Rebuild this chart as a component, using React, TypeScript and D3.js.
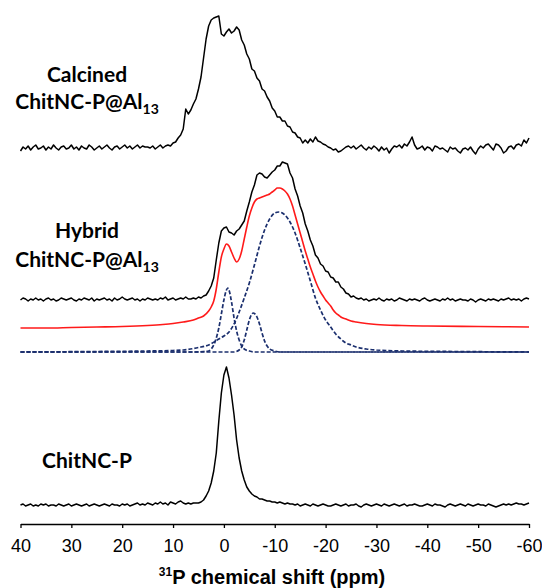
import * as d3 from "d3";
import { useEffect, useRef } from "react";

// sampled spectra: 40 ppm down to -60 ppm, every 0.5 ppm
const ppmGrid = d3.range(0, 201).map((i) => 40 - 0.5 * i);

// ChitNC-P (bottom trace)
const chitncP = [
  0, 1, -1, 0, 1, -1, 0, -1, 1, 0, 1, -1, 0, 0, -1, 1, 0, -1, 0, 1,
  -1, 0, 1, 0, -1, 0, 1, -1, 0, 1, 0, -1, 0, 1, 0, -1, 1, 0, 0, -1,
  1, 0, 1, -1, 0, 1, 2, 0, 1, 0, 2, 1, 0, 2, 1, 3, 1, 2, 0, 3,
  2, 1, 3, 4, 2, 1, 2, 1, 2,
  2, 2, 3, 5, 9, 14, 22, 34, 52, 84, 112, 130, 138, 127, 110, 90, 65, 47, 34, 25,
  18, 14, 11, 9, 8, 6, 6, 5, 4, 4, 3, 3, 2, 3, 2, 1, 2, 1, 1, 0,
  1, -1, 0, 1, 0, -1, 1, 0, -1, 0, 1, 0, -1, -1, 0, 1, 0, -1, 0, 1,
  -1, 0, 0, 1, -1, -2, 0, 1, 0, -1, 0, 1, 0, -1, 1, 0, -1, 0, 1, 0,
  -1, 0, 1, -1, 0, 0, 1, 0, -1, -1, 0, 1, 0, -1, 1, 0, 0, -1, -2, 0,
  1, 0, -1, 0, 1, 0, -1, 1, 0, -1, 0, 1, 0, 0, -1, 1, 0, -1, -2, -1,
  0, 1, 0, 1, 0, 1, 2, 1, 1, 0, 1, 2,
];

// Hybrid ChitNC-P@Al13 (measured)
const hybrid = [
  0, 2, 1, -1, 1, 0, 2, 0, 1, -1, 1, 2, 0, 1, -1, 0, 2, 1, 0, 1,
  2, 0, -1, 1, 0, 2, 1, 0, 2, -1, 1, 0, 1, 2, 0, 1, -1, 2, 0, 1,
  3, 1, 0, 1, 2, 0, 1, -1, 1, 0, 2, 1, 0, 1, 0, 2, 1, 3, 0, 1,
  2, 0, 1, 2, 1, 3, 1,
  1, 2, 1, 3, 2, 4, 5, 9, 14, 22, 40, 57, 69, 72, 73, 68, 67, 65, 69, 71,
  75, 79, 89, 98, 108, 115, 125, 127, 126, 123, 122, 125, 128, 130, 134, 134, 138, 137, 136, 127,
  122, 111, 104, 94, 87, 76, 69, 60, 54, 45, 42, 36, 34, 29, 28, 23, 22, 18, 18, 13,
  11, 7, 6, 3, 4, 2,
  1, 2, 0, 1, -1, 0, 1, 0, 2, 0, -1, 1, 0, 1, -1, 0, 2, 1, 0, -1,
  1, 0, 1, 0, -1, 1, 2, 0, -1, 0, 1, 0, -1, 1, 0, 2, 0, 1, -1, 0,
  1, 0, 0, -1, 1, 0, -2, 0, 1, 0, -1, 1, 0, 1, 0, -1, 1, 0, 1, 2,
  0, 1, 0, 1, -1, 1, 2, 1,
];

// Calcined ChitNC-P@Al13 (top trace)
const calcined = [
  -3, 1, -1, 2, -2, 1, 3, -1, 0, 2, -2, 1, -1, 3, 0, -2, 1, 2, -1, 0,
  3, -1, 1, -2, 2, 0, -1, 3, 1, -2, 0, 2, -1, 1, 3, 0, -2, 1, 2, -1,
  1, 3, 0, 2, -1, 1, 3, 0, 2, 1,
  1, 0, 2, -1, 1, 3, 0, 2, 3, 2, 5, 6, 10, 13, 19, 39, 34, 38, 44, 49,
  59, 71, 90, 109, 122, 128, 130, 131, 132, 114, 112, 116, 119, 115, 117, 121, 118, 108, 103, 94,
  89, 79, 77, 70, 67, 59, 57, 51, 47, 40, 37, 31, 31, 27, 27, 22, 21, 16, 15, 11,
  10, 5, 8, 5, 9, 6, 11, 7, 6, 4, 3, 1, 0, -2, -1, -4, -3, -1, 1, 2,
  0,
  2, -1, 1, 3, 0, -2, 1, -1, 2, 0, -3, 1, -2, 0, -5, -1, 2, 1, 3, 0,
  4, 2, 6, 11, 3, -1, 0, 2, -2, 1, 0, -3, 2, 1, -1, 0, -2, -4, 1, -1,
  0, -3, -5, -1, 0, -2, 1, -3, -6, -1, 2, 0, 3, 4, 1, -2, 4, 3, 0, -5,
  -3, 1, 2, -1, 3, 4, 2, 8, 5, 10,
];

// deconvolution of the hybrid spectrum: [ppm, intensity]
const fitSum: [number, number][] = [
  [40, 0], [35, 0], [30, 0.5], [25, 1], [20, 1.5], [15, 2.5], [12, 3.5], [10, 4.5], [8, 6], [6, 8],
  [5, 10], [4, 12], [3, 17], [2.5, 21], [2, 27], [1.5, 39], [1, 56], [0.5, 71], [0, 79], [-0.5, 84],
  [-1, 82], [-1.5, 76], [-2, 70], [-2.5, 66], [-3, 69], [-3.5, 77], [-4, 89], [-4.5, 101], [-5, 112],
  [-5.5, 120], [-6, 126], [-6.5, 129], [-7, 130], [-7.5, 131], [-8, 132], [-8.5, 133], [-9, 134],
  [-9.5, 136], [-10, 138], [-10.5, 140], [-11, 140], [-11.5, 139], [-12, 137], [-12.5, 134], [-13, 129],
  [-13.5, 122], [-14, 113], [-14.5, 104], [-15, 95], [-15.5, 86], [-16, 77], [-16.5, 69], [-17, 61],
  [-17.5, 54], [-18, 47], [-18.5, 41], [-19, 36], [-19.5, 32], [-20, 28], [-20.5, 25], [-21, 22],
  [-21.5, 18], [-22, 15], [-22.5, 13], [-23, 11], [-24, 9], [-25, 7], [-26, 6], [-28, 4.5], [-30, 3.5],
  [-35, 2.5], [-40, 2], [-50, 1.5], [-60, 1],
];
const compA: [number, number][] = [
  [40, 0], [6, 0], [4, 0.5], [3, 1], [2.5, 3], [2, 7], [1.5, 14], [1, 24], [0.5, 38], [0, 52],
  [-0.5, 62], [-0.75, 64], [-1, 62], [-1.5, 50], [-2, 34], [-2.5, 21], [-3, 12], [-3.5, 6], [-4, 3],
  [-5, 1], [-6, 0], [-60, 0],
];
const compB: [number, number][] = [
  [40, 0], [-2, 0], [-3, 2], [-3.5, 5], [-4, 12], [-4.5, 22], [-5, 32], [-5.5, 38], [-5.8, 39],
  [-6, 38.5], [-6.5, 35], [-7, 28], [-7.5, 19], [-8, 11], [-8.5, 6], [-9, 3], [-10, 1], [-11, 0], [-60, 0],
];
const compC: [number, number][] = [
  [40, 0], [25, 0.5], [15, 1], [10, 1.5], [8, 2], [5, 4.5], [3, 7], [1, 13], [0, 16], [-1, 20],
  [-2, 28], [-3, 40], [-4, 54], [-5, 69], [-6, 87], [-7, 106], [-8, 122], [-9, 133], [-10, 139],
  [-10.8, 140], [-11.5, 139], [-12, 137], [-13, 130], [-14, 119], [-15, 104], [-16, 88], [-17, 71],
  [-18, 54], [-19, 42], [-20, 32], [-21, 25], [-22, 18], [-23, 13], [-24, 9], [-25, 7], [-26, 5],
  [-28, 3], [-30, 2], [-35, 1], [-45, 0.5], [-60, 0],
];

const xTicks = [40, 30, 20, 10, 0, -10, -20, -30, -40, -50, -60];

// vertical stacking of the traces
const offBottom = 19;
const offComps = 172;
const offFit = 196;
const offHybrid = 224;
const offTop = 376;

export default function App() {
  const ref = useRef<SVGSVGElement | null>(null);

  useEffect(() => {
    if (!ref.current) return;
    document.body.style.margin = "0";

    const x = d3.scaleLinear().domain([40, -60]).range([20.5, 529]);
    const y = d3.scaleLinear().domain([0, 520]).range([524, 4]);

    const svg = d3.select(ref.current);
    svg.selectAll("*").remove();

    const traceLine = (off: number) =>
      d3
        .line<number>()
        .x((_, i) => x(ppmGrid[i]))
        .y((d) => y(d + off));

    const fitLine = (off: number) =>
      d3
        .line<[number, number]>()
        .x((d) => x(d[0]))
        .y((d) => y(d[1] + off))
        .curve(d3.curveMonotoneX);

    const navy = "#1b2f6e";
    [compC, compA, compB].forEach((c) => {
      svg
        .append("path")
        .attr("d", fitLine(offComps)(c))
        .attr("fill", "none")
        .attr("stroke", navy)
        .attr("stroke-width", 1.7)
        .attr("stroke-dasharray", "4,2");
    });

    svg
      .append("path")
      .attr("d", fitLine(offFit)(fitSum))
      .attr("fill", "none")
      .attr("stroke", "#ff1a1a")
      .attr("stroke-width", 1.6);

    [
      [chitncP, offBottom],
      [hybrid, offHybrid],
      [calcined, offTop],
    ].forEach(([data, off]) => {
      svg
        .append("path")
        .attr("d", traceLine(off as number)(data as number[]))
        .attr("fill", "none")
        .attr("stroke", "#000")
        .attr("stroke-width", 1.5)
        .attr("stroke-linejoin", "round");
    });

    const axis = svg
      .append("g")
      .attr("transform", `translate(0,${y(0)})`)
      .call(
        d3
          .axisBottom(x)
          .tickValues(xTicks)
          .tickSize(4)
          .tickSizeOuter(0)
          .tickPadding(11)
          .tickFormat((v) => String(v))
      );
    axis.selectAll(".domain, .tick line").attr("stroke", "#000").attr("stroke-width", 1.3);
    axis.selectAll("text").attr("fill", "#000").style("font-family", "Arial, 'Liberation Sans', sans-serif").style("font-size", "18px");

    const title = svg
      .append("text")
      .attr("x", 272)
      .attr("y", 584)
      .attr("text-anchor", "middle")
      .style("font-family", "Arial, 'Liberation Sans', sans-serif")
      .style("font-weight", "bold")
      .style("font-size", "20px");
    title.append("tspan").text("31").style("font-size", "12px").attr("dy", -8);
    title.append("tspan").text("P chemical shift (ppm)").attr("dy", 8);

    const labelFont = "Lato, 'Open Sans', sans-serif";
    const addLabel = (yy: number, main: string, sub?: string) => {
      const t = svg
        .append("text")
        .attr("x", 87)
        .attr("y", yy)
        .attr("text-anchor", "middle")
        .style("font-family", labelFont)
        .style("font-weight", "bold")
        .style("font-size", "21px")
        .attr("fill", "#000");
      t.append("tspan").text(main);
      if (sub) t.append("tspan").text(sub).style("font-size", "14px").attr("dy", 5);
    };
    addLabel(82, "Calcined");
    addLabel(109, "ChitNC-P@Al", "13");
    addLabel(238, "Hybrid");
    addLabel(267, "ChitNC-P@Al", "13");
    addLabel(468, "ChitNC-P");
  }, []);

  return <svg ref={ref} width={542} height={588} style={{ display: "block" }} />;
}
